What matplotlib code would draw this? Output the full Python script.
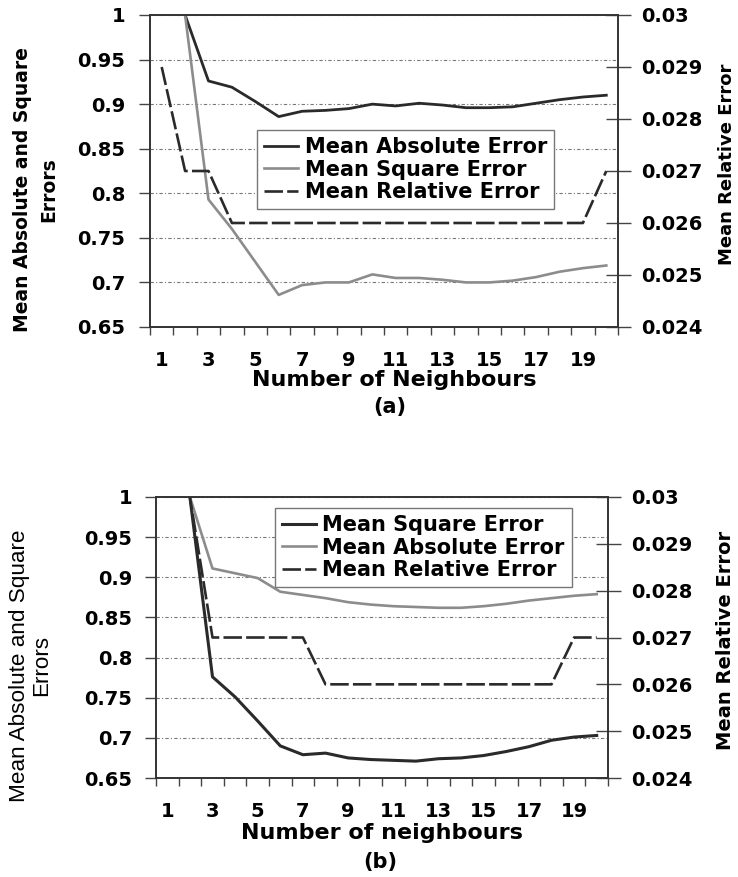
import numpy as np
import matplotlib
matplotlib.use("Agg")
import matplotlib.pyplot as plt
from matplotlib.ticker import FuncFormatter, FixedLocator

# neighbours 1..20
k = np.arange(1, 21)

# panel (a)
mae_a = [1.03, 1.000, 0.926, 0.919, 0.903, 0.886, 0.892, 0.893, 0.895, 0.900,
         0.898, 0.901, 0.899, 0.896, 0.896, 0.897, 0.901, 0.905, 0.908, 0.910]
mse_a = [1.12, 1.000, 0.793, 0.760, 0.723, 0.686, 0.697, 0.700, 0.700, 0.709,
         0.705, 0.705, 0.703, 0.700, 0.700, 0.702, 0.706, 0.712, 0.716, 0.719]
mre_a = [0.029, 0.027, 0.027, 0.026, 0.026, 0.026, 0.026, 0.026, 0.026, 0.026,
         0.026, 0.026, 0.026, 0.026, 0.026, 0.026, 0.026, 0.026, 0.026, 0.027]

# panel (b)
mse_b = [1.10, 1.000, 0.776, 0.751, 0.721, 0.690, 0.679, 0.681, 0.675, 0.673,
         0.672, 0.671, 0.674, 0.675, 0.678, 0.683, 0.689, 0.697, 0.701, 0.703]
mae_b = [1.04, 1.000, 0.911, 0.905, 0.899, 0.882, 0.878, 0.874, 0.869, 0.866,
         0.864, 0.863, 0.862, 0.862, 0.864, 0.867, 0.871, 0.874, 0.877, 0.879]
mre_b = [0.032, 0.030, 0.027, 0.027, 0.027, 0.027, 0.027, 0.026, 0.026, 0.026,
         0.026, 0.026, 0.026, 0.026, 0.026, 0.026, 0.026, 0.026, 0.027, 0.027]

left_ticks = [0.65, 0.7, 0.75, 0.8, 0.85, 0.9, 0.95, 1.0]
right_ticks = [0.024, 0.025, 0.026, 0.027, 0.028, 0.029, 0.03]
x_labels = [1, 3, 5, 7, 9, 11, 13, 15, 17, 19]

DARK = "#2a2a2a"
LIGHT = "#8c8c8c"
fmt = FuncFormatter(lambda v, p: "%g" % round(v, 4))


def setup(ax, ax2, lpad, rpad, xpad):
    ax.set_xlim(0.5, 20.5)
    ax.set_ylim(0.65, 1.0)
    ax2.set_ylim(0.024, 0.03)
    ax.set_yticks(left_ticks)
    ax2.set_yticks(right_ticks)
    ax.yaxis.set_major_formatter(fmt)
    ax2.yaxis.set_major_formatter(fmt)
    ax.set_xticks(x_labels)
    ax.set_xticklabels([str(v) for v in x_labels])
    ax.xaxis.set_minor_locator(FixedLocator(np.arange(0.5, 21, 1.0)))
    ax.tick_params(axis="x", which="major", length=0, pad=xpad, labelsize=14)
    ax.tick_params(axis="x", which="minor", length=6, width=1, color="#444")
    ax.tick_params(axis="y", length=8, width=1, color="#444", pad=lpad, labelsize=14)
    ax2.tick_params(axis="y", direction="inout", length=18, width=1, color="#444",
                    pad=rpad, labelsize=14)
    for lab in ax.get_xticklabels() + ax.get_yticklabels() + ax2.get_yticklabels():
        lab.set_fontweight("bold")
    ax.grid(axis="y", color="#777", lw=0.8, linestyle=(0, (3, 2, 1, 2)))
    for a in (ax, ax2):
        for s in a.spines.values():
            s.set_color("#333")
            s.set_linewidth(1.2)
            s.set_linestyle((0, (1, 1)))


def legend(ax2, handles, anchor):
    leg = ax2.legend(handles=handles, loc="upper left", bbox_to_anchor=anchor,
                     borderaxespad=0, fancybox=False, framealpha=1, edgecolor="#777",
                     prop={"size": 15, "weight": "bold"}, handlelength=1.65,
                     handletextpad=0.3, labelspacing=0.13, borderpad=0.33)
    leg.get_frame().set_linewidth(1.0)


fig = plt.figure(figsize=(7.38, 8.77), dpi=100)

# ---------- (a) ----------
ax = fig.add_axes([150 / 738, 1 - 327 / 877, 468 / 738, 312 / 877])
ax2 = ax.twinx()
l1, = ax.plot(k, mae_a, color=DARK, lw=2.0, label="Mean Absolute Error")
l2, = ax.plot(k, mse_a, color=LIGHT, lw=1.9, label="Mean Square Error")
l3, = ax2.plot(k, mre_a, color=DARK, lw=1.9, dashes=(7, 1.6), label="Mean Relative Error")
setup(ax, ax2, 10, 8, 17)
ax.set_ylabel("Mean Absolute and Square\nErrors", fontsize=13.5, fontweight="bold",
              linespacing=1.5, va="center")
ax.yaxis.set_label_coords(-0.245, 0.44)
ax2.set_ylabel("Mean Relative Error", fontsize=13, fontweight="bold", rotation=90,
               va="center")
ax2.yaxis.set_label_coords(1.233, 0.52)
ax.set_xlabel("Number of Neighbours", fontsize=16, fontweight="bold", va="center")
ax.xaxis.set_label_coords(0.522, -0.17)
ax.text(0.513, -0.256, "(a)", transform=ax.transAxes, ha="center", va="center",
        fontsize=15, fontweight="bold")
legend(ax2, [l1, l2, l3], (0.229, 0.631))

# ---------- (b) ----------
bx = fig.add_axes([156 / 738, 1 - 778 / 877, 452 / 738, 281 / 877])
bx2 = bx.twinx()
m1, = bx.plot(k, mse_b, color=DARK, lw=2.2, label="Mean Square Error")
m2, = bx.plot(k, mae_b, color=LIGHT, lw=1.9, label="Mean Absolute Error")
m3, = bx2.plot(k, mre_b, color=DARK, lw=1.9, dashes=(7, 1.6), label="Mean Relative Error")
setup(bx, bx2, 9, 8, 17)
bx.set_ylabel("Mean Absolute and Square\nErrors", fontsize=16.2,
              family=["Liberation Sans", "DejaVu Sans"], linespacing=1.05, va="center")
bx.yaxis.set_label_coords(-0.277, 0.40)
bx2.set_ylabel("Mean Relative Error", fontsize=14, fontweight="bold", rotation=90,
               va="center")
bx2.yaxis.set_label_coords(1.259, 0.49)
bx.set_xlabel("Number of neighbours", fontsize=16, fontweight="bold", va="center")
bx.xaxis.set_label_coords(0.50, -0.196)
bx.text(0.496, -0.299, "(b)", transform=bx.transAxes, ha="center", va="center",
        fontsize=15, fontweight="bold")
legend(bx2, [m1, m2, m3], (0.263, 0.961))

fig.savefig("out.png", dpi=100)
